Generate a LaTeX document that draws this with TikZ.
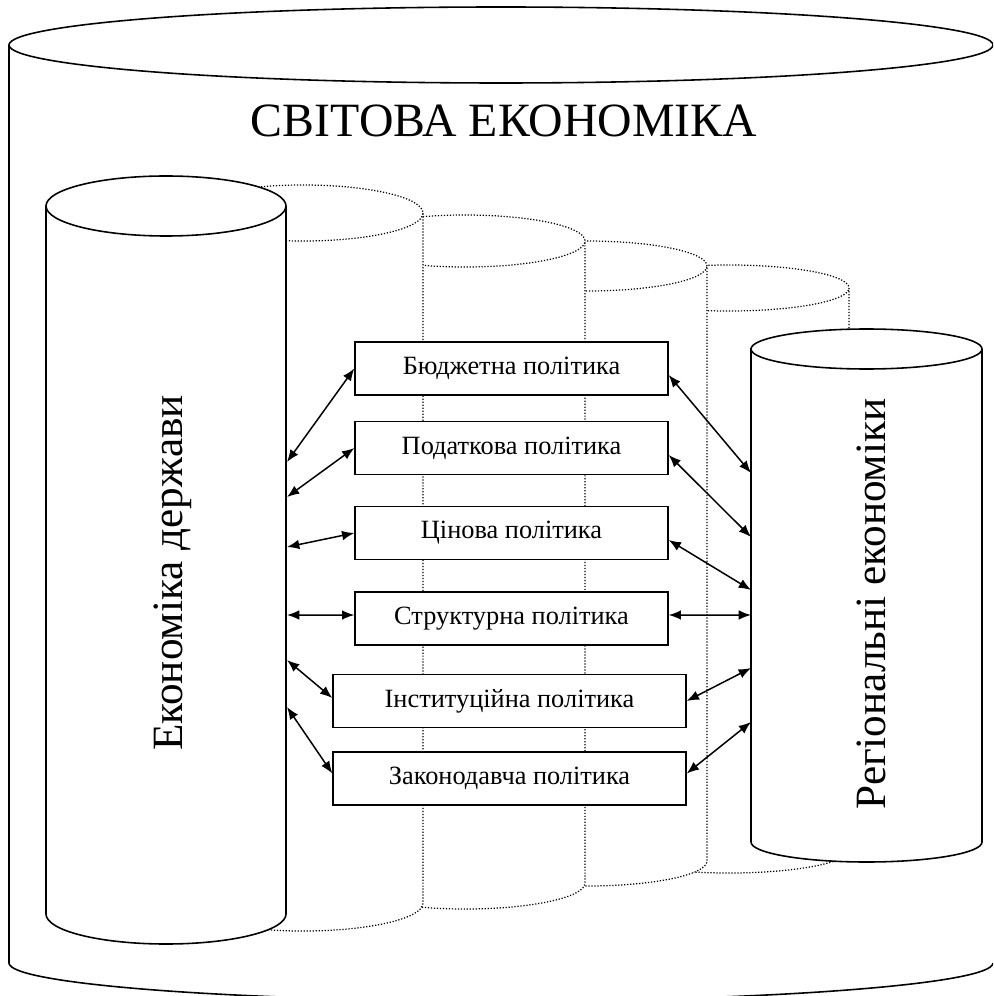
\documentclass[tikz,border=0pt]{standalone}
\usepackage{fontspec}
\setmainfont{Liberation Serif}
\usetikzlibrary{arrows.meta}

\begin{document}
\begin{tikzpicture}[x=0.02cm,y=-0.02cm,
  can/.style={line width=0.9pt},
  hid/.style={densely dotted,line width=0.7pt},
  pol/.style={draw,fill=white,line width=0.8pt,minimum height=1.06cm,inner sep=0pt,font=\fontsize{15}{18}\selectfont},
  link/.style={{Latex[length=7pt,width=5.5pt]}-{Latex[length=7pt,width=5.5pt]},line width=0.85pt}]
\useasboundingbox (0,0) rectangle (993,996);
\clip (0,0) rectangle (993,996);
% world economy
\draw[can] (501,45) ellipse [x radius=492,y radius=38];
\draw[can] (9,45) -- (9,963) arc[start angle=180,end angle=0,x radius=492,y radius=38];
\node[font=\fontsize{27.2}{31}\selectfont] (world) at (504,121) {СВІТОВА ЕКОНОМІКА};
% dotted cans, back to front
\filldraw[hid,fill=white] (609,288) -- (609,850) arc[start angle=180,end angle=0,x radius=120,y radius=23] -- (849,288) arc[start angle=0,end angle=-180,x radius=120,y radius=23] -- cycle;
\draw[hid] (609,288) arc[start angle=180,end angle=0,x radius=120,y radius=23];
\filldraw[hid,fill=white] (467,266) -- (467,861) arc[start angle=180,end angle=0,x radius=120,y radius=25] -- (707,266) arc[start angle=0,end angle=-180,x radius=120,y radius=25] -- cycle;
\draw[hid] (467,266) arc[start angle=180,end angle=0,x radius=120,y radius=25];
\filldraw[hid,fill=white] (345,241) -- (345,883) arc[start angle=180,end angle=0,x radius=120,y radius=26] -- (585,241) arc[start angle=0,end angle=-180,x radius=120,y radius=26] -- cycle;
\draw[hid] (345,241) arc[start angle=180,end angle=0,x radius=120,y radius=26];
\filldraw[hid,fill=white] (183,213) -- (183,903) arc[start angle=180,end angle=0,x radius=120,y radius=28] -- (423,213) arc[start angle=0,end angle=-180,x radius=120,y radius=28] -- cycle;
\draw[hid] (183,213) arc[start angle=180,end angle=0,x radius=120,y radius=28];
% regional economies
\filldraw[can,fill=white] (751,349) -- (751,842) arc[start angle=180,end angle=0,x radius=115.5,y radius=20] -- (982,349) arc[start angle=0,end angle=-180,x radius=115.5,y radius=20] -- cycle;
\draw[can] (751,349) arc[start angle=180,end angle=0,x radius=115.5,y radius=20];
\node[rotate=90,anchor=base,font=\fontsize{24.6}{29}\selectfont] (region) at (885,604) {Регіональні економіки};
% state economy
\filldraw[can,fill=white] (46,206) -- (46,914) arc[start angle=180,end angle=0,x radius=120,y radius=30] -- (286,206) arc[start angle=0,end angle=-180,x radius=120,y radius=30] -- cycle;
\draw[can] (46,206) arc[start angle=180,end angle=0,x radius=120,y radius=30];
\node[rotate=90,anchor=base,font=\fontsize{24.6}{29}\selectfont] (state) at (182,573) {Економіка держави};
% policies
\node[pol,minimum width=6.26cm] (budget) at (511.5,368.5) {Бюджетна політика};
\node[pol,minimum width=6.26cm] (tax) at (511.5,448) {Податкова політика};
\node[pol,minimum width=6.26cm] (price) at (511.5,533) {Цінова політика};
\node[pol,minimum width=6.26cm] (struct) at (511.5,618.5) {Структурна політика};
\node[pol,minimum width=7.06cm] (inst) at (509.5,701) {Інституційна політика};
\node[pol,minimum width=7.06cm] (law) at (509.5,778.5) {Законодавча політика};
\coordinate (s1) at (287,462);
\coordinate (s2) at (287,497);
\coordinate (s3) at (287,547);
\coordinate (s4) at (287,615);
\coordinate (s5) at (287,660);
\coordinate (s6) at (287,707);
\coordinate (r1) at (751,473);
\coordinate (r2) at (751,537);
\coordinate (r3) at (751,590);
\coordinate (r4) at (751,615);
\coordinate (r5) at (751,668);
\coordinate (r6) at (751,722);
\draw[link] (s1) -- (budget.west);
\draw[link] ([yshift=-0.13cm]budget.east) -- (r1);
\draw[link] (s2) -- (tax.west);
\draw[link] ([yshift=-0.14cm]tax.east) -- (r2);
\draw[link] (s3) -- (price.west);
\draw[link] ([yshift=-0.14cm]price.east) -- (r3);
\draw[link] (s4) -- ([yshift=0.07cm]struct.west);
\draw[link] ([yshift=0.07cm]struct.east) -- (r4);
\draw[link] (s5) -- ([yshift=0.06cm]inst.west);
\draw[link] (inst.east) -- (r5);
\draw[link] (s6) -- ([yshift=0.1cm]law.west);
\draw[link] ([yshift=0.1cm]law.east) -- (r6);
\end{tikzpicture}
\end{document}
